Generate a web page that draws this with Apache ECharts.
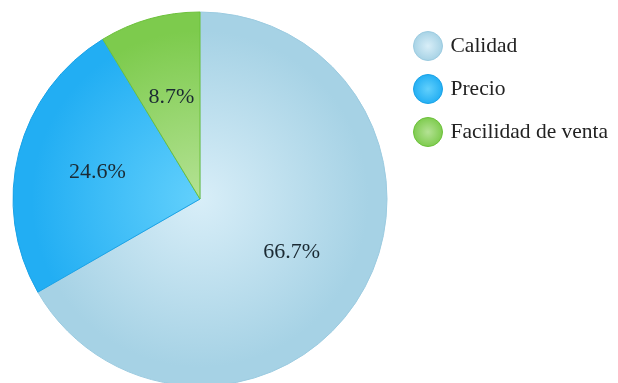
<!DOCTYPE html>
<html><head><meta charset="utf-8">
<script src="https://cdn.jsdelivr.net/npm/echarts@6/dist/echarts.min.js"></script>
<style>html,body{margin:0;padding:0;background:#fff}#c{width:618px;height:383px}</style>
</head><body><div id="c"></div>
<script>
const categories = ['Calidad', 'Precio', 'Facilidad de venta'];
const values = [66.7, 24.6, 8.7];
const innerColors = ['#d8eef8', '#62d0fc', '#b4e294'];
const outerColors = ['#a6d2e5', '#22aef3', '#7dcb4d'];
const borderColors = ['#9ccbe0', '#1aa2e6', '#6cc13a'];

const chart = echarts.init(document.getElementById('c'));
const cx = 200, cy = 199, R = 187;
chart.setOption({
  animation: false,
  legend: {
    orient: 'vertical', left: 408, top: 26,
    itemWidth: 29, itemHeight: 29, itemGap: 13,
    icon: 'circle',
    textStyle: { fontFamily: 'Liberation Serif', fontSize: 21.5, color: '#222', padding: [0, 0, 0, 3] },
    data: categories.map((n, i) => ({
      name: n,
      itemStyle: {
        color: { type: 'radial', x: 0.5, y: 0.5, r: 0.5,
          colorStops: [{ offset: 0, color: innerColors[i] }, { offset: 1, color: outerColors[i] }] },
        borderColor: borderColors[i], borderWidth: 1
      }
    }))
  },
  series: [{
    type: 'pie',
    center: [cx, cy], radius: R,
    startAngle: 90, clockwise: true,
    label: { show: false },
    labelLine: { show: false },
    emphasis: { disabled: true },
    data: categories.map((n, i) => ({
      name: n, value: values[i],
      itemStyle: {
        color: { type: 'radial', x: cx, y: cy, r: R, global: true,
          colorStops: [{ offset: 0, color: innerColors[i] }, { offset: 0.9, color: outerColors[i] }, { offset: 1, color: outerColors[i] }] },
        borderColor: borderColors[i], borderWidth: 1
      }
    }))
  }, {
    type: 'pie',
    center: [cx, cy], radius: R * 1.1,
    startAngle: 90, clockwise: true,
    silent: true,
    itemStyle: { color: 'rgba(0,0,0,0)', borderWidth: 0 },
    label: {
      position: 'inner',
      formatter: p => p.value.toFixed(1) + '%',
      fontFamily: 'Liberation Serif', fontSize: 22, color: '#1b2a33'
    },
    labelLine: { show: false },
    emphasis: { disabled: true },
    data: categories.map((n, i) => ({ name: n, value: values[i] }))
  }]
});
</script></body></html>
